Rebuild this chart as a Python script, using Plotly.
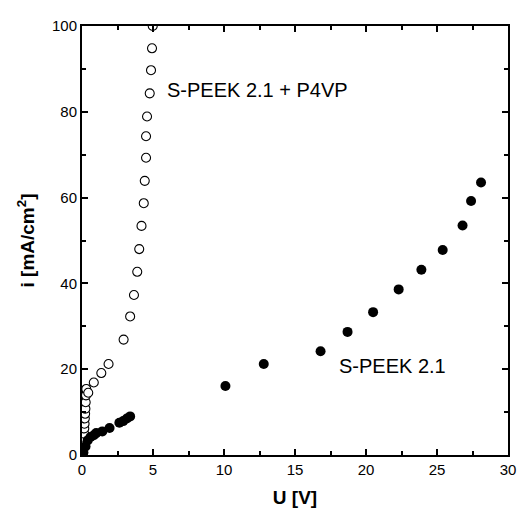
import plotly.graph_objects as go

# S-PEEK 2.1 + P4VP (open circles)
u_p4vp = [0.05, 0.08, 0.10, 0.12, 0.13, 0.15, 0.16, 0.18, 0.20, 0.22, 0.24, 0.26, 0.28, 0.30,
          0.44, 0.83, 1.36, 1.87, 2.93, 3.39, 3.66, 3.89, 4.03, 4.19, 4.35, 4.42, 4.51,
          4.51, 4.58, 4.77, 4.86, 4.93, 4.98]
i_p4vp = [0.4, 1.2, 2.1, 3.1, 4.0, 5.0, 6.2, 7.3, 8.5, 9.6, 10.8, 12.3, 13.9, 15.4,
          14.5, 16.9, 19.1, 21.2, 26.9, 32.3, 37.3, 42.7, 48.0, 53.4, 58.7, 63.9, 69.3,
          74.3, 78.9, 84.3, 89.7, 94.8, 100.0]

# S-PEEK 2.1 (filled circles)
u_speek = [0.10, 0.25, 0.40, 0.60, 0.83, 1.00, 1.43, 1.94, 2.63, 2.90, 3.16, 3.39,
           10.1, 12.8, 16.8, 18.7, 20.5, 22.3, 23.9, 25.4, 26.8, 27.4, 28.1]
i_speek = [0.6, 2.0, 3.4, 4.2, 4.6, 5.1, 5.5, 6.3, 7.5, 7.9, 8.5, 9.0,
           16.1, 21.2, 24.2, 28.7, 33.3, 38.6, 43.2, 47.8, 53.5, 59.2, 63.5]

x_ticks = [0, 5, 10, 15, 20, 25, 30]
y_ticks = [0, 20, 40, 60, 80, 100]

FONT = "Liberation Sans, Arial"

fig = go.Figure()
fig.add_trace(go.Scatter(
    x=u_p4vp, y=i_p4vp, mode="markers",
    marker=dict(symbol="circle", size=9, color="white",
                line=dict(color="black", width=1.1)),
    showlegend=False))
fig.add_trace(go.Scatter(
    x=u_speek, y=i_speek, mode="markers",
    marker=dict(symbol="circle", size=10, color="black",
                line=dict(color="black", width=0)),
    showlegend=False))

fig.add_annotation(x=5.85, y=85.0, xref="x", yref="y", text="S-PEEK 2.1 + P4VP",
                   showarrow=False, xanchor="left", yanchor="middle",
                   font=dict(family=FONT, size=20, color="black"))
fig.add_annotation(x=17.95, y=20.8, xref="x", yref="y", text="S-PEEK 2.1",
                   showarrow=False, xanchor="left", yanchor="middle",
                   font=dict(family=FONT, size=20, color="black"))

axis_common = dict(
    showline=True, linecolor="black", linewidth=2, mirror="ticks",
    ticks="inside", ticklen=6, tickwidth=1.5, tickcolor="black",
    showgrid=False, zeroline=False,
    tickfont=dict(family=FONT, size=15, color="black"),
)

fig.update_xaxes(range=[0, 30], tickvals=x_ticks, ticktext=[str(v) for v in x_ticks],
                 minor=dict(ticks="inside", ticklen=4, tickwidth=1.5, tickcolor="black", dtick=2.5),
                 title=dict(text="<b>U [V]</b>", standoff=14,
                            font=dict(family=FONT, size=19, color="black")),
                 **axis_common)
fig.update_yaxes(range=[0, 100], tickvals=y_ticks, ticktext=[str(v) for v in y_ticks],
                 minor=dict(ticks="inside", ticklen=4, tickwidth=1.5, tickcolor="black", dtick=10),
                 title=dict(text="<b>i [mA/cm<sup>2</sup>]</b>", standoff=12,
                            font=dict(family=FONT, size=19, color="black")),
                 **axis_common)

# page body has an 8px margin, so the figure is offset by 8px
fig.update_layout(
    width=517, height=508,
    margin=dict(l=74, r=9, t=14, b=61),
    plot_bgcolor="white", paper_bgcolor="white",
    font=dict(family=FONT, color="black"),
)

fig.write_html("out.html")
